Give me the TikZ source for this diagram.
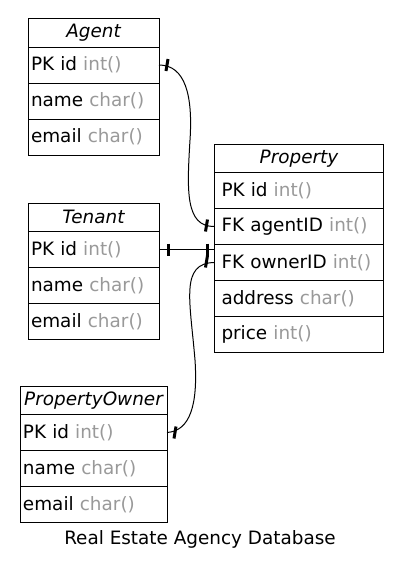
\documentclass[tikz,border=0pt]{standalone}
\usepackage{fontspec}
\setmainfont{DejaVu Sans}
\usetikzlibrary{positioning}
\definecolor{typegray}{gray}{0.6}
\newcommand{\dtype}[1]{\textcolor{typegray}{#1}}

\tikzset{
    tablebox/.style={draw, line width=1pt, outer sep=0pt, inner ysep=0pt, inner xsep=3pt},
    head/.style={tablebox, text width=#1, align=center, minimum height=28.5pt,
        font=\fontsize{18.4}{22}\selectfont\itshape},
    field/.style={tablebox, text width=#1, align=left, minimum height=36pt,
        font=\fontsize{18.4}{22}\selectfont},
    link/.style={line width=1pt},
    tick/.style={line width=3pt}
}

\begin{document}
\begin{tikzpicture}[x=1pt, y=-1pt]
    \useasboundingbox (0,0) rectangle (402,573);

    % agent table
    \node [head=125, anchor=north west] (agent) at (28,18.5) {Agent};
    \node [field=125, below=0pt of agent] (agent-id) {PK id \dtype{int()}};
    \node [field=125, below=0pt of agent-id] (agent-name) {name \dtype{char()}};
    \node [field=125, below=0pt of agent-name] (agent-email) {email \dtype{char()}};

    % tenant table
    \node [head=125, anchor=north west] (tenant) at (28,203) {Tenant};
    \node [field=125, below=0pt of tenant] (tenant-id) {PK id \dtype{int()}};
    \node [field=125, below=0pt of tenant-id] (tenant-name) {name \dtype{char()}};
    \node [field=125, below=0pt of tenant-name] (tenant-email) {email \dtype{char()}};

    % property owner table
    \node [head=141, anchor=north west] (owner) at (20,386) {PropertyOwner};
    \node [field=141, below=0pt of owner] (owner-id) {PK id \dtype{int()}};
    \node [field=141, below=0pt of owner-id] (owner-name) {name \dtype{char()}};
    \node [field=141, below=0pt of owner-name] (owner-email) {email \dtype{char()}};

    % property table, a bit more padding
    \node [head=155, inner xsep=7pt, anchor=north west] (prop) at (214.5,144) {Property};
    \node [field=155, inner xsep=7pt, below=0pt of prop] (prop-id) {PK id \dtype{int()}};
    \node [field=155, inner xsep=7pt, below=0pt of prop-id] (prop-agent) {FK agentID \dtype{int()}};
    \node [field=155, inner xsep=7pt, below=0pt of prop-agent] (prop-owner) {FK ownerID \dtype{int()}};
    \node [field=155, inner xsep=7pt, below=0pt of prop-owner] (prop-address) {address \dtype{char()}};
    \node [field=155, inner xsep=7pt, below=0pt of prop-address] (prop-price) {price \dtype{int()}};

    % links
    \draw [link] (agent-id.east) .. controls (185,65) and (193,95) .. (190,140)
        .. controls (187,190) and (185,227) .. (prop-agent.west);
    \draw [link] (tenant-id.east) -- (tenant-id.east -| prop-owner.west);
    \draw [link] (owner-id.east) .. controls (190,431) and (198,405) .. (195,360)
        .. controls (190,300) and (180,263) .. (prop-owner.west);

    % the bars near each end
    \draw [tick] ([xshift=8pt]agent-id.east) ++(1,-6) -- ++(-2,12);
    \draw [tick] ([xshift=-8pt]prop-agent.west) ++(1,-7) -- ++(-2,12);
    \draw [tick] ([xshift=9.5pt]tenant-id.east) ++(0,-6) -- ++(0,12);
    \draw [tick] ([xshift=-7pt]tenant-id.east -| prop-owner.west) ++(0,-6) -- ++(0,12);
    \draw [tick] ([xshift=-8pt]prop-owner.west) ++(1,-7) -- ++(-2,12);
    \draw [tick] ([xshift=8pt]owner-id.east) ++(1,-6) -- ++(-2,12);

    \node [font=\fontsize{18.4}{22}\selectfont] (caption) at (200,539) {Real Estate Agency Database};
\end{tikzpicture}
\end{document}
